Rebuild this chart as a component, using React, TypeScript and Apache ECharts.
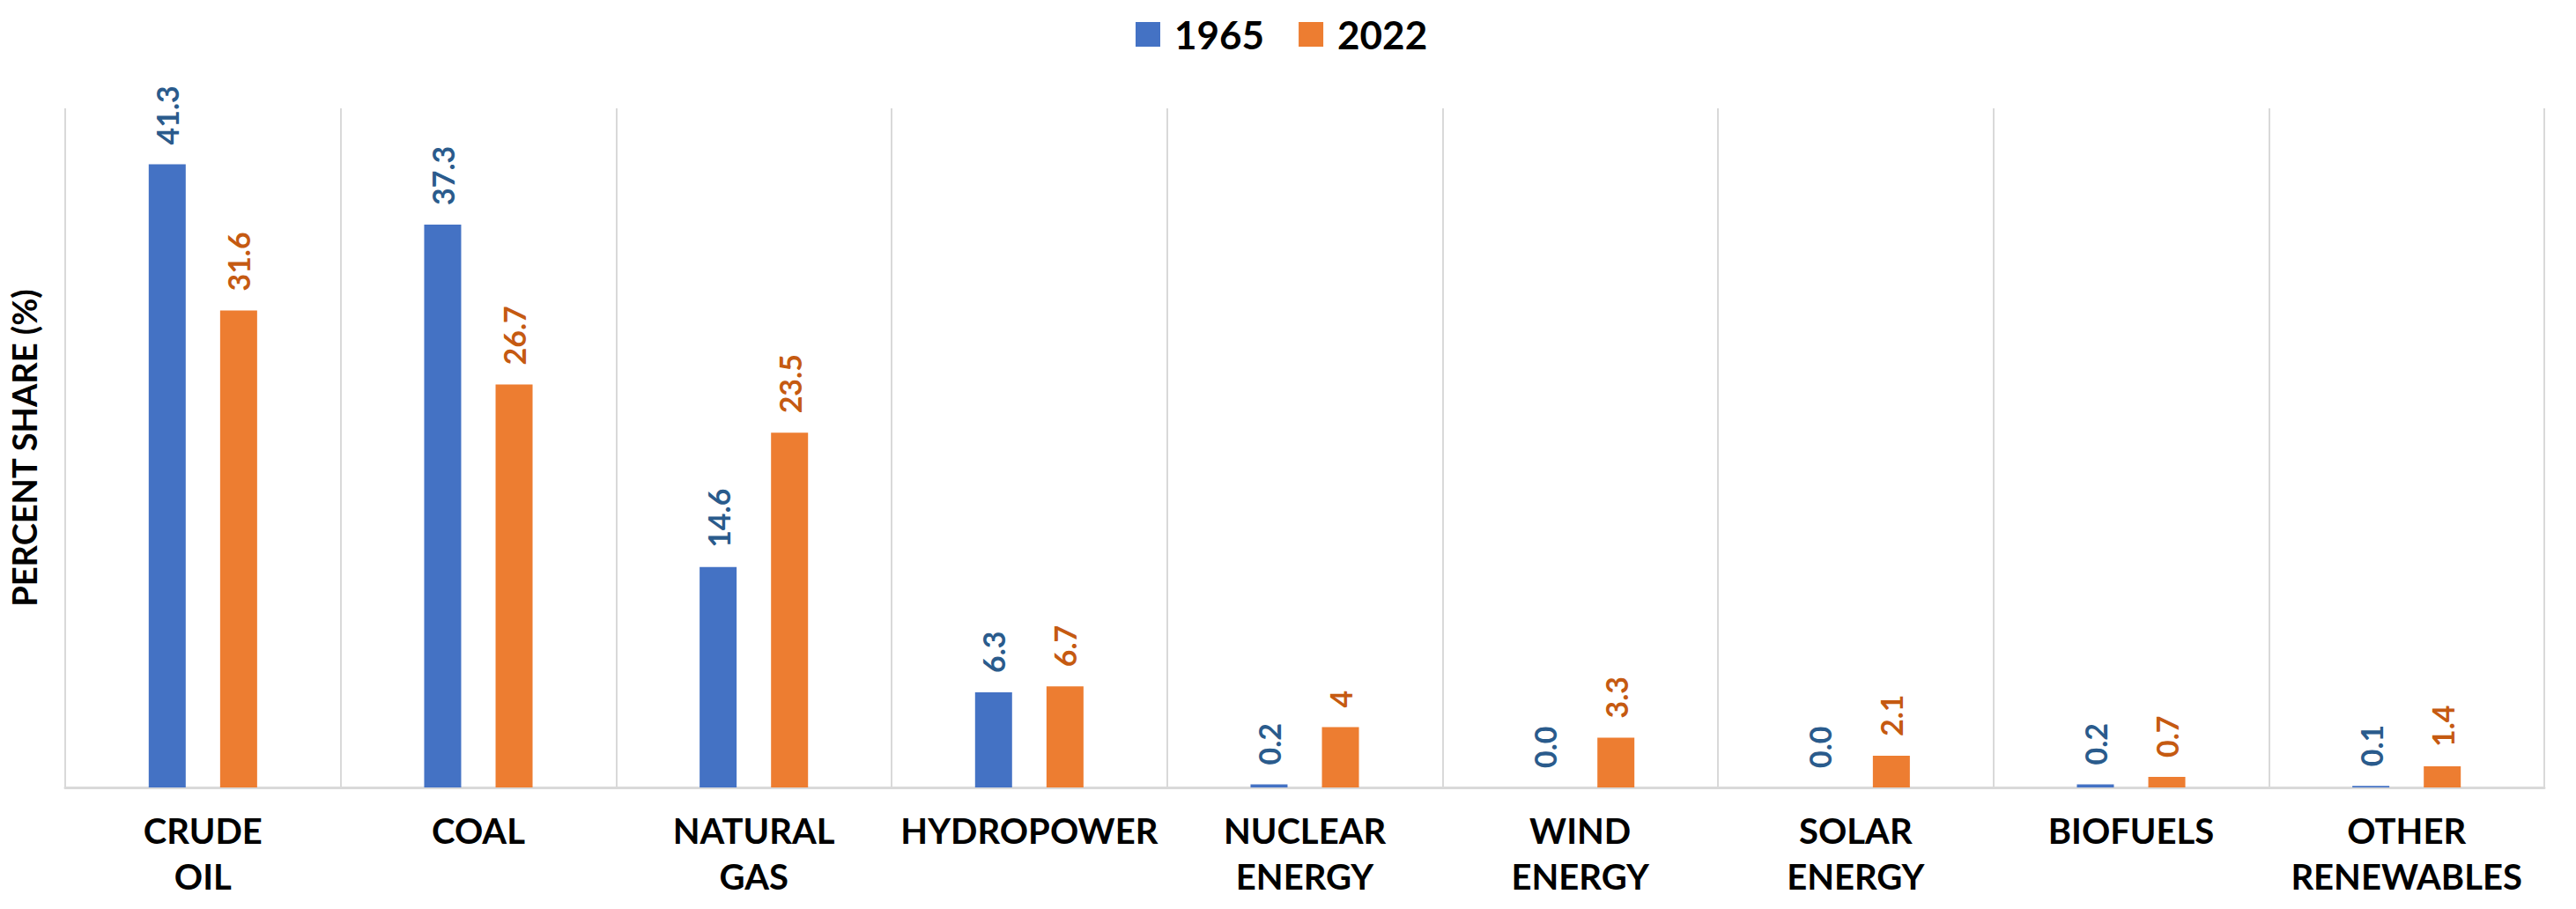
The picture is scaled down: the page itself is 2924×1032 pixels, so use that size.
import React, { useEffect, useRef } from "react";
import * as echarts from "echarts";

const categories = [
  "CRUDE\nOIL",
  "COAL",
  "NATURAL\nGAS",
  "HYDROPOWER",
  "NUCLEAR\nENERGY",
  "WIND\nENERGY",
  "SOLAR\nENERGY",
  "BIOFUELS",
  "OTHER\nRENEWABLES",
];
const values1965 = [41.3, 37.3, 14.6, 6.3, 0.2, 0.0, 0.0, 0.2, 0.1];
const values2022 = [31.6, 26.7, 23.5, 6.7, 4, 3.3, 2.1, 0.7, 1.4];
const seriesNames = ["1965", "2022"];
const yAxisName = "PERCENT SHARE (%)";

export default function App() {
  const ref = useRef<HTMLDivElement>(null);
  useEffect(() => {
    document.body.style.margin = "0";
    if (!ref.current) return;
    const chart = echarts.init(ref.current, undefined, { renderer: "svg" });
    const labelBase = {
      show: true,
      position: "top",
      rotate: 90,
      align: "left",
      verticalAlign: "middle",
      distance: 22,
      fontFamily: "Lato",
      fontWeight: "bold",
      fontSize: 34,
    };
    chart.setOption({
      animation: false,
      backgroundColor: "#ffffff",
      legend: {
        data: seriesNames,
        left: 1289,
        top: 17,
        padding: 0,
        icon: "rect",
        itemWidth: 28,
        itemHeight: 28,
        itemGap: 39,
        textStyle: {
          fontFamily: "Lato",
          fontWeight: "bold",
          fontSize: 44,
          lineHeight: 44,
          color: "#000000",
          padding: [0, 0, 0, 11],
        },
      },
      grid: { left: 70, right: 36, top: 123, bottom: 138 },
      xAxis: {
        type: "category",
        data: categories,
        axisTick: { show: false },
        axisLine: { show: true, lineStyle: { color: "#D9D9D9", width: 3 } },
        splitLine: { show: true, lineStyle: { color: "#D9D9D9", width: 2 } },
        axisLabel: {
          interval: 0,
          margin: 23,
          fontFamily: "Lato",
          fontWeight: "bold",
          fontSize: 40,
          lineHeight: 52,
          color: "#000000",
        },
      },
      yAxis: {
        type: "value",
        min: 0,
        max: 45,
        name: yAxisName,
        nameLocation: "middle",
        nameRotate: 90,
        nameGap: 28,
        nameTextStyle: {
          fontFamily: "Lato",
          fontWeight: "bold",
          fontSize: 38,
          color: "#000000",
        },
        axisLabel: { show: false },
        axisLine: { show: false },
        axisTick: { show: false },
        splitLine: { show: false },
      },
      series: [
        {
          name: seriesNames[0],
          type: "bar",
          data: values1965,
          barWidth: 42,
          barGap: "93%",
          itemStyle: { color: "#4472C4" },
          label: {
            ...labelBase,
            color: "#2A5B8C",
            formatter: (p: any) => Number(p.value).toFixed(1),
          },
        },
        {
          name: seriesNames[1],
          type: "bar",
          data: values2022,
          barWidth: 42,
          barGap: "93%",
          itemStyle: { color: "#ED7D31" },
          label: {
            ...labelBase,
            color: "#C55A11",
            formatter: (p: any) => String(p.value),
          },
        },
      ],
    });
    return () => chart.dispose();
  }, []);
  return <div ref={ref} style={{ width: 2924, height: 1032 }} />;
}
